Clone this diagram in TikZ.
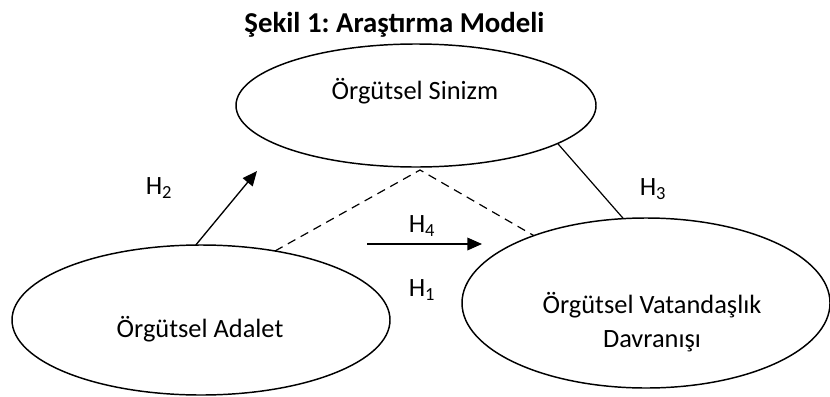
\documentclass[tikz,border=0pt]{standalone}
\usepackage{fontspec}
\setmainfont{Carlito}
\usetikzlibrary{shapes.geometric,arrows.meta}
\frenchspacing

\begin{document}
\begin{tikzpicture}[x=0.75pt,y=0.75pt,yscale=-1,xscale=1,
	every node/.style={font=\fontsize{19.8}{25.5}\selectfont},
	construct/.style={draw,ellipse,line width=1.1pt,inner sep=0pt,outer sep=0pt},
	txtlabel/.style={anchor=base,inner sep=0.75pt,align=center},
	hyparrow/.style={line width=1pt,-{Triangle[length=11pt,width=9.5pt]}},
	hypline/.style={line width=0.9pt},
	mediation/.style={line width=0.9pt,dash pattern=on 6.5pt off 4.5pt}]
	\useasboundingbox (0,0) rectangle (830,396);
	
	% Text Node
	\node[txtlabel,font=\fontsize{21.6}{26}\selectfont\bfseries] (title) at (394.5,32) {Şekil 1: Araştırma Modeli};
	
	%Shape: Ellipse
	\node[construct,minimum width=270pt,minimum height=92.25pt] (sinizm) at (416,105.5) {};
	%Shape: Ellipse
	\node[construct,minimum width=283.5pt,minimum height=112.5pt] (adalet) at (201,320) {};
	%Shape: Ellipse
	\node[construct,minimum width=276pt,minimum height=127.5pt] (ovd) at (646,303) {};
	
	% Text Node
	\node[txtlabel] (sinizmtxt) at (415,99) {Örgütsel Sinizm};
	% Text Node
	\node[txtlabel] (adalettxt) at (200,337) {Örgütsel Adalet};
	% Text Node
	\node[txtlabel] (ovdtxt) at (652,347) {Örgütsel Vatandaşlık\\Davranışı};
	
	\coordinate (h2tip) at (257,171);
	\coordinate (apex) at (420,170);
	\coordinate (h4tail) at (367,244);
	\coordinate (h4tip) at (482,244);
	
	%Straight Lines
	\draw[hyparrow] (adalet.94) -- (h2tip);
	\draw[hyparrow] (h4tail) -- (h4tip);
	\draw[hypline] (sinizm.-15) -- (ovd.105);
	%Dashed Lines
	\draw[mediation] (adalet.43) -- (apex) -- (ovd.149);
	
	% Text Node
	\node[txtlabel] (h2) at (159,194) {H\textsubscript{2}};
	% Text Node
	\node[txtlabel] (h4) at (422,232) {H\textsubscript{4}};
	% Text Node
	\node[txtlabel] (h1) at (422,296) {H\textsubscript{1}};
	% Text Node
	\node[txtlabel] (h3) at (653,195) {H\textsubscript{3}};
\end{tikzpicture}
\end{document}
